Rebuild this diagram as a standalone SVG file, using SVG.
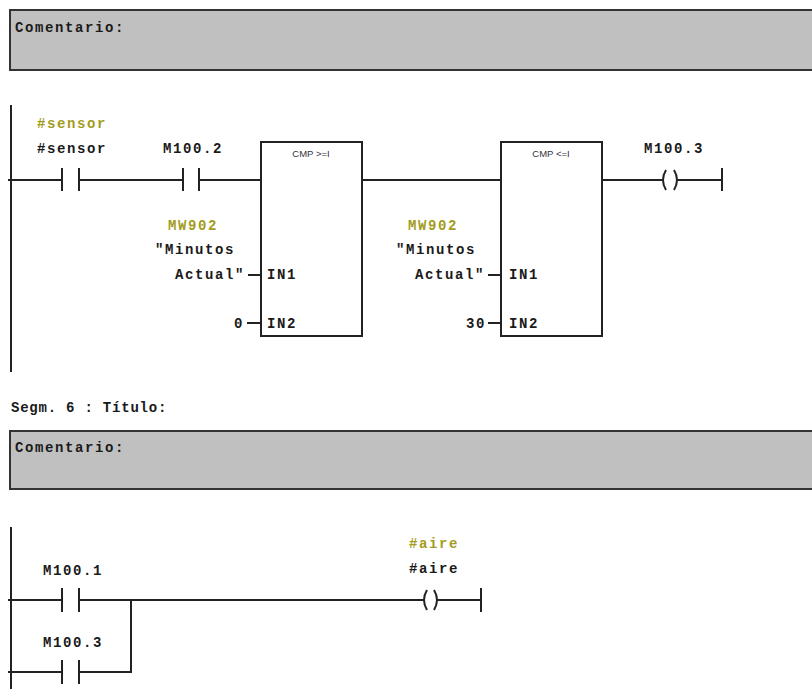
<svg xmlns="http://www.w3.org/2000/svg" width="812" height="689" viewBox="0 0 812 689">
<style>
.bg{fill:#ffffff}
.cmt{fill:#c0c0c0;stroke:#333333;stroke-width:2}
.w{stroke:#222222;stroke-width:2;fill:none}
.blk{fill:#ffffff;stroke:#222222;stroke-width:2}
.t{font-family:"Liberation Mono",monospace;font-weight:bold;font-size:14px;letter-spacing:1.6px;fill:#1a1a1a}
.y{fill:#a39c1c}
.s{font-family:"Liberation Sans",Arial,sans-serif;font-size:9.5px;fill:#333344;text-anchor:middle}
.e{text-anchor:end}
</style>
<rect class="bg" x="0" y="0" width="812" height="689"/>

<g id="comment1">
<rect class="cmt" x="10" y="10" width="812" height="60"/>
<text class="t" x="15" y="32" letter-spacing="1.3">Comentario:</text>
</g>

<g id="segm6title">
<text class="t" x="11" y="412" textLength="157" lengthAdjust="spacing" letter-spacing="0">Segm. 6 : Título:</text>
</g>

<g id="comment2">
<rect class="cmt" x="10" y="431" width="812" height="58"/>
<text class="t" x="15" y="452" letter-spacing="1.3">Comentario:</text>
</g>

<g id="connectors">
<!-- network 5 -->
<line class="w" x1="11" y1="105" x2="11" y2="372"/>
<line class="w" x1="8" y1="180" x2="62" y2="180"/>
<line class="w" x1="79" y1="180" x2="183" y2="180"/>
<line class="w" x1="199" y1="180" x2="261" y2="180"/>
<line class="w" x1="362" y1="180" x2="501" y2="180"/>
<line class="w" x1="602" y1="180" x2="663" y2="180"/>
<line class="w" x1="677" y1="180" x2="722" y2="180"/>
<line class="w" x1="248" y1="275" x2="261" y2="275"/>
<line class="w" x1="247" y1="323" x2="261" y2="323"/>
<line class="w" x1="488" y1="275" x2="501" y2="275"/>
<line class="w" x1="488" y1="323" x2="501" y2="323"/>
<!-- network 6 -->
<line class="w" x1="11" y1="527" x2="11" y2="689"/>
<line class="w" x1="8" y1="600" x2="62" y2="600"/>
<line class="w" x1="79" y1="600" x2="424" y2="600"/>
<line class="w" x1="437" y1="600" x2="481" y2="600"/>
<line class="w" x1="131" y1="600" x2="131" y2="672"/>
<line class="w" x1="8" y1="672" x2="62" y2="672"/>
<line class="w" x1="79" y1="672" x2="132" y2="672"/>
</g>

<g id="contact_sensor">
<text class="t y" x="37" y="128">#sensor</text>
<text class="t" x="37" y="153">#sensor</text>
<line class="w" x1="62" y1="168" x2="62" y2="191"/>
<line class="w" x1="79" y1="168" x2="79" y2="191"/>
</g>

<g id="contact_M100_2">
<text class="t" x="163" y="153">M100.2</text>
<line class="w" x1="183" y1="168" x2="183" y2="191"/>
<line class="w" x1="199" y1="168" x2="199" y2="191"/>
</g>

<g id="cmp_ge">
<rect class="blk" x="261" y="142" width="101" height="194"/>
<text class="s" x="311" y="157">CMP &gt;=I</text>
<text class="t" x="267" y="279">IN1</text>
<text class="t" x="267" y="328">IN2</text>
<text class="t y" x="168" y="230">MW902</text>
<text class="t" x="155" y="254">"Minutos</text>
<text class="t e" x="245" y="279">Actual"</text>
<text class="t e" x="244" y="328">0</text>
</g>

<g id="cmp_le">
<rect class="blk" x="501" y="142" width="101" height="194"/>
<text class="s" x="551" y="157">CMP &lt;=I</text>
<text class="t" x="509" y="279">IN1</text>
<text class="t" x="509" y="328">IN2</text>
<text class="t y" x="408" y="230">MW902</text>
<text class="t" x="396" y="254">"Minutos</text>
<text class="t e" x="485" y="279">Actual"</text>
<text class="t e" x="486" y="328">30</text>
</g>

<g id="coil_M100_3">
<text class="t" x="644" y="153">M100.3</text>
<path class="w" d="M666,170 Q660,180 666,190" stroke-width="1.6"/>
<path class="w" d="M674,170 Q680,180 674,190" stroke-width="1.6"/>
<line class="w" x1="722" y1="168" x2="722" y2="191"/>
</g>

<g id="contact_M100_1">
<text class="t" x="43" y="575">M100.1</text>
<line class="w" x1="62" y1="588" x2="62" y2="612"/>
<line class="w" x1="79" y1="588" x2="79" y2="612"/>
</g>

<g id="contact_M100_3">
<text class="t" x="43" y="647">M100.3</text>
<line class="w" x1="62" y1="660" x2="62" y2="684"/>
<line class="w" x1="79" y1="660" x2="79" y2="684"/>
</g>

<g id="coil_aire">
<text class="t y" x="409" y="548">#aire</text>
<text class="t" x="409" y="573">#aire</text>
<path class="w" d="M427,590 Q421,600 427,610" stroke-width="1.6"/>
<path class="w" d="M434,590 Q440,600 434,610" stroke-width="1.6"/>
<line class="w" x1="481" y1="588" x2="481" y2="612"/>
</g>
</svg>
